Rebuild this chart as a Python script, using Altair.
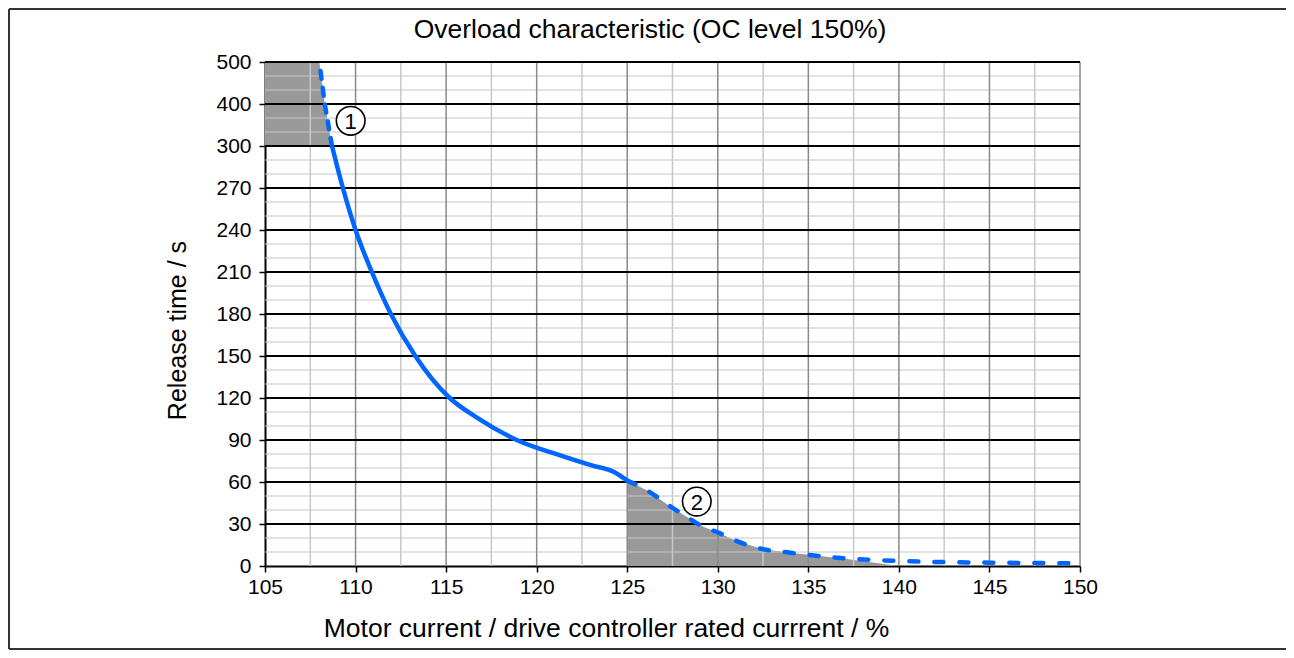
import altair as alt
import pandas as pd

# ---- data ----
x_ticks = [105, 110, 115, 120, 125, 130, 135, 140, 145, 150]
y_ticks = [0, 30, 60, 90, 120, 150, 180, 210, 240, 270, 300, 400, 500]
x_minor = [107.5, 112.5, 117.5, 122.5, 127.5, 132.5, 137.5, 142.5, 147.5]
x_major = [110, 115, 120, 125, 130, 135, 140, 145, 150]
y_minor = [10, 20, 40, 50, 70, 80, 100, 110, 130, 140, 160, 170, 190, 200,
           220, 230, 250, 260, 280, 290, 333.33, 366.67, 433.33, 466.67]
y_major = [30, 60, 90, 120, 150, 180, 210, 240, 270, 300, 400, 500]

dash1_x = [108.0, 108.15, 108.3, 108.5, 108.7]
dash1_y = [500, 450, 400, 350, 300]
solid_x = [108.7, 109.3, 110.0, 110.9, 111.95, 113.3, 115.2, 116.7, 118.9, 121.3, 123.0, 124.3, 125.0]
solid_y = [300, 270, 240, 210, 180, 150, 120, 106, 90, 79, 72, 67, 61]
dash2_x = [125.0, 126.1, 127.4, 128.3, 129.2, 130.0, 131.0, 132.5, 134.0, 135.0,
           137.0, 140.0, 145.0, 150.0]
dash2_y = [61, 54, 42.4, 35, 28, 24, 18, 12, 9.5, 8, 5.5, 3.6, 2.4, 2]

area1_x = [105, 108.0, 108.15, 108.3, 108.5, 108.7]
area1_y = [500, 500, 450, 400, 350, 300]
area1_base = 300
area2_x = [125.0, 126.1, 127.4, 128.3, 129.2, 130.0, 131.0, 132.5, 134.0, 135.0, 137.0, 140.0]
area2_y = [61, 54, 42.4, 35, 28, 24, 18, 12, 9.5, 8, 5.2, 0]
area2_base = 0

marker_x = [109.73, 128.84]
marker_y = [360, 46]
marker_label = ["1", "2"]

title = "Overload characteristic (OC level 150%)"
x_title = "Motor current / drive controller rated currrent / %"
y_title = "Release time / s"

FONT = "Liberation Sans"
W, H = 815, 504

xs = alt.Scale(domain=[105, 150], nice=False, zero=False)
ys = alt.Scale(domain=[0, 300, 500], range=[H, 84, 0], nice=False, zero=False)


def X(field, axis=alt.Undefined):
    return alt.X(field, type="quantitative", scale=xs, axis=axis)


def Y(field, axis=alt.Undefined):
    return alt.Y(field, type="quantitative", scale=ys, axis=axis)


x_axis = alt.Axis(values=x_ticks, grid=False, title=x_title, labelFontSize=21,
                  titleFontSize=26.5, titleFontWeight="normal", labelFont=FONT, titleFont=FONT,
                  domainColor="black", domainWidth=2, tickColor="black", tickWidth=1.5,
                  tickSize=6, labelPadding=4, labelColor="black", titleColor="black",
                  titleX=341, titleY=62, titleBaseline="middle", labelFlush=False)
y_axis = alt.Axis(values=y_ticks, grid=False, title=y_title, labelFontSize=21,
                  titleFontSize=25, titleFontWeight="normal", labelFont=FONT, titleFont=FONT,
                  domainColor="black", domainWidth=2, tickColor="black", tickWidth=1.5,
                  tickSize=6, labelPadding=8, labelColor="black", titleColor="black",
                  titleX=-88, titleY=268, titleBaseline="middle", titleAngle=-90,
                  labelFlush=False)

area1_df = pd.DataFrame({"x": area1_x, "y": area1_y, "y0": [area1_base] * len(area1_x)})
area2_df = pd.DataFrame({"x": area2_x, "y": area2_y, "y0": [area2_base] * len(area2_x)})

area1 = alt.Chart(area1_df).mark_area(color="#999999", opacity=1).encode(
    x=X("x", x_axis), y=Y("y", y_axis), y2="y0")
area2 = alt.Chart(area2_df).mark_area(color="#999999", opacity=1).encode(
    x=X("x"), y=Y("y"), y2="y0")

hminor_df = pd.DataFrame({"y": y_minor, "xa": [105] * len(y_minor), "xb": [150] * len(y_minor)})
vminor_df = pd.DataFrame({"x": x_minor, "ya": [0] * len(x_minor), "yb": [500] * len(x_minor)})
vmajor_df = pd.DataFrame({"x": x_major, "ya": [0] * len(x_major), "yb": [500] * len(x_major)})
hmajor_df = pd.DataFrame({"y": y_major, "xa": [105] * len(y_major), "xb": [150] * len(y_major)})

hminor = alt.Chart(hminor_df).mark_rule(color="#c8c8c8", strokeWidth=1.2).encode(
    y=Y("y"), x=X("xa"), x2="xb")
vminor = alt.Chart(vminor_df).mark_rule(color="#c8c8c8", strokeWidth=1.5).encode(
    x=X("x"), y=Y("ya"), y2="yb")
vmajor = alt.Chart(vmajor_df).mark_rule(color="#8a8a8a", strokeWidth=1.5).encode(
    x=X("x"), y=Y("ya"), y2="yb")
hmajor = alt.Chart(hmajor_df).mark_rule(color="black", strokeWidth=2).encode(
    y=Y("y"), x=X("xa"), x2="xb")

BLUE = "#0066ff"
d1 = pd.DataFrame({"x": dash1_x, "y": dash1_y})
s1 = pd.DataFrame({"x": solid_x, "y": solid_y})
d2 = pd.DataFrame({"x": dash2_x, "y": dash2_y})
line_d1 = alt.Chart(d1).mark_line(color=BLUE, strokeWidth=4.5, strokeDash=[8, 9],
                                  strokeCap="round").encode(
    x=X("x"), y=Y("y"), order="y:Q")
line_s = alt.Chart(s1).mark_line(color=BLUE, strokeWidth=4.5, interpolate="monotone").encode(
    x=X("x"), y=Y("y"))
line_d2 = alt.Chart(d2).mark_line(color=BLUE, strokeWidth=4.5, strokeDash=[9, 16],
                                  strokeCap="round", interpolate="monotone").encode(
    x=X("x"), y=Y("y"))

mk = pd.DataFrame({"x": marker_x, "y": marker_y, "t": marker_label})
circles = alt.Chart(mk).mark_point(shape="circle", size=820, filled=True, fill="white",
                                   stroke="black", strokeWidth=1.6, opacity=1).encode(
    x=X("x"), y=Y("y"))
labels = alt.Chart(mk).mark_text(fontSize=22, font=FONT, color="black", baseline="middle",
                                 align="center", dy=1).encode(
    x=X("x"), y=Y("y"), text="t:N")

one = pd.DataFrame({"t": [title]})
title_mark = alt.Chart(one).mark_text(fontSize=26.5, font=FONT, color="black",
                                      baseline="middle", align="center").encode(
    x=alt.value(385), y=alt.value(-32), text="t:N")
frame_left = alt.Chart(one).mark_rule(color="#333333", strokeWidth=2).encode(
    x=alt.value(-256), y=alt.value(-53), y2=alt.value(587))
frame_top = alt.Chart(one).mark_rule(color="#333333", strokeWidth=2).encode(
    x=alt.value(-256), x2=alt.value(1021), y=alt.value(-53))
frame_bot = alt.Chart(one).mark_rule(color="#333333", strokeWidth=2).encode(
    x=alt.value(-256), x2=alt.value(1021), y=alt.value(587))

chart = alt.layer(
    area1, area2, hminor, vminor, vmajor, hmajor, line_d1, line_s, line_d2,
    circles, labels, title_mark, frame_left, frame_top, frame_bot
).properties(
    width=W, height=H,
    autosize="none",
    padding={"left": 257, "top": 54, "right": 206, "bottom": 84},
).configure_view(strokeWidth=0).configure(background="white")

chart.save("out.html", embed_options={"renderer": "svg", "actions": False})
